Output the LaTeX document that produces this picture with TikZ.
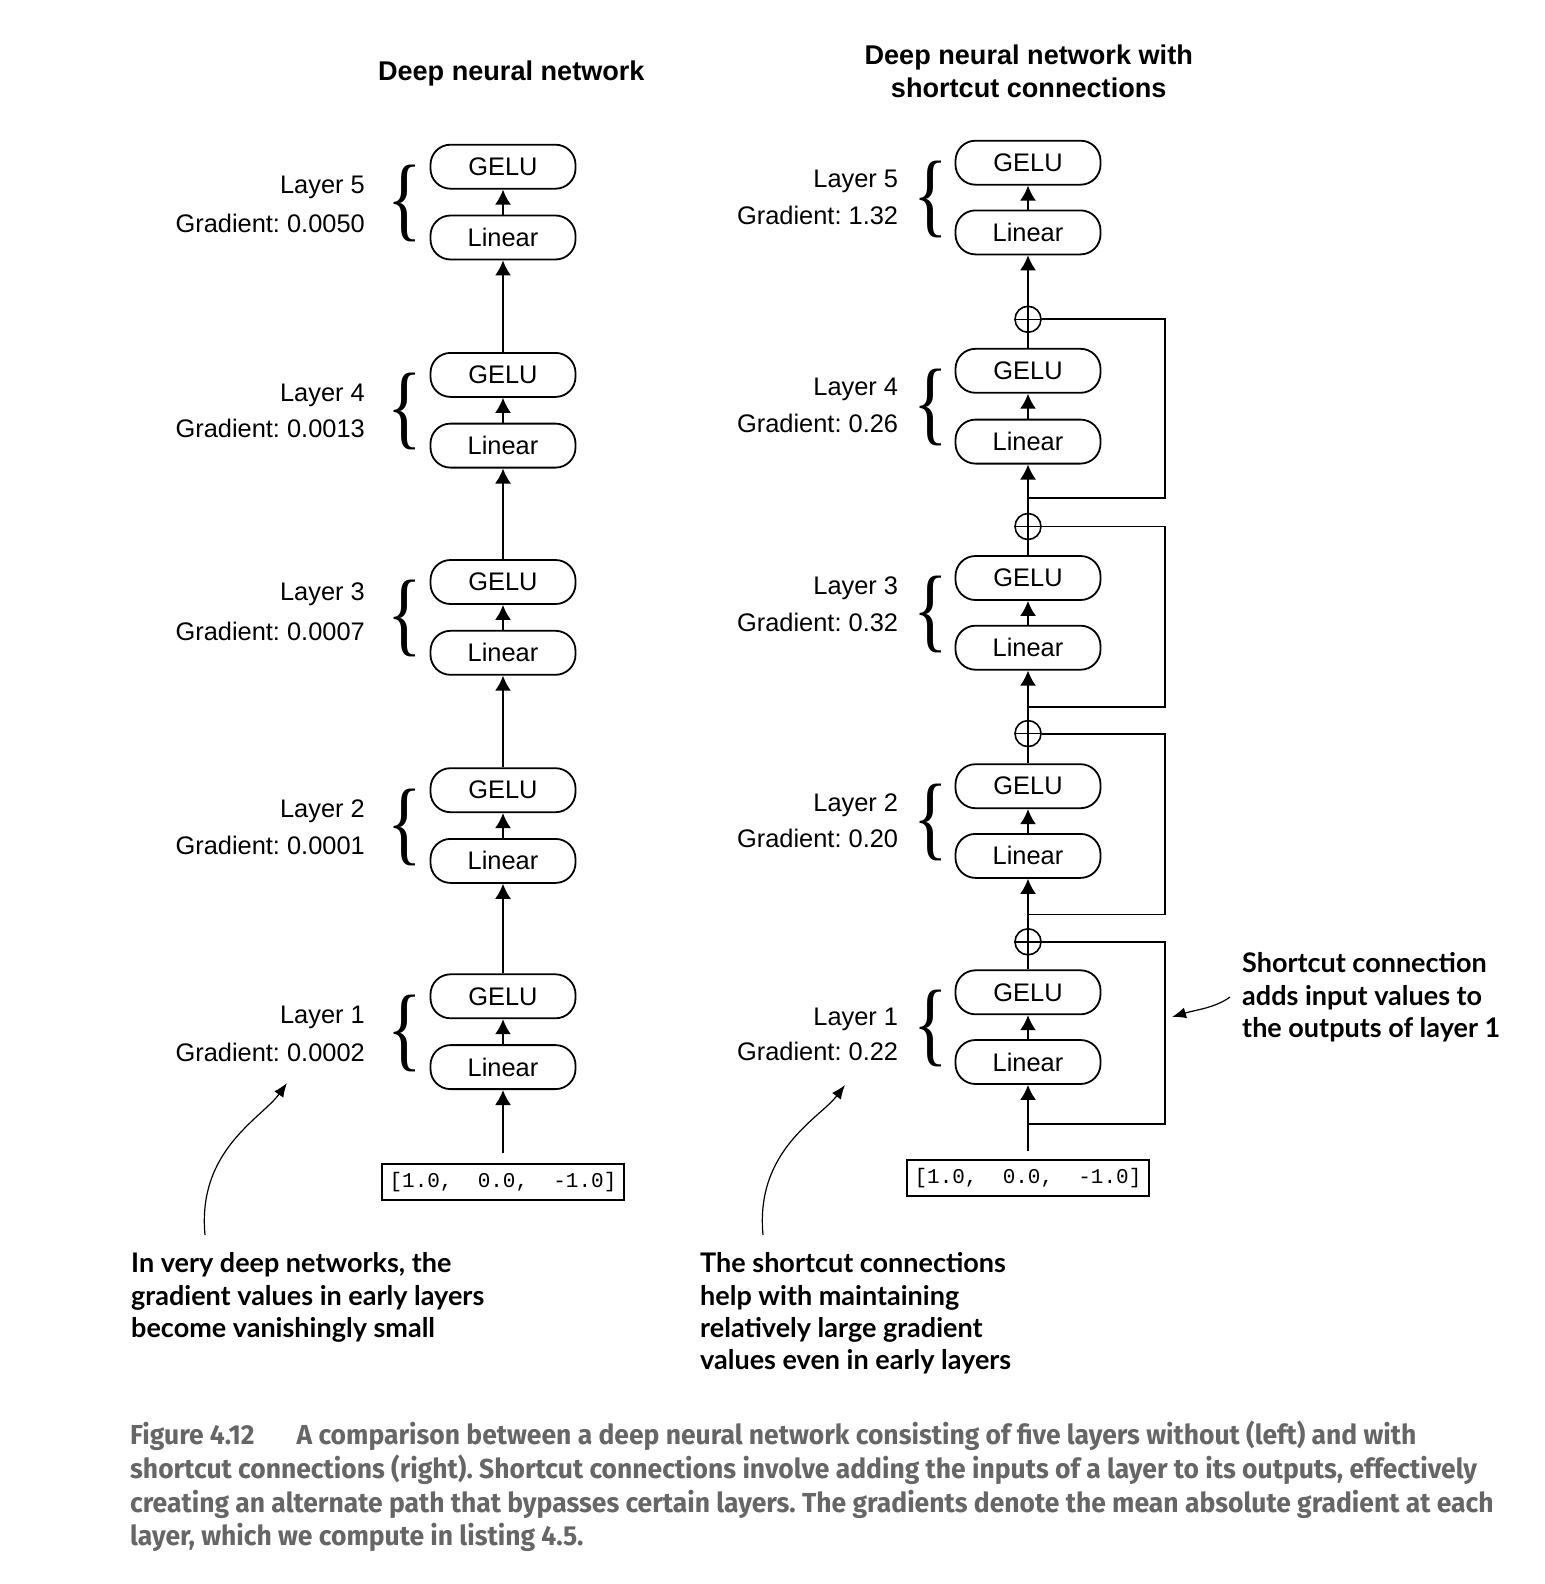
\documentclass[tikz,border=0pt]{standalone}
\usepackage{fontspec}
\usepackage{graphicx}
\setmainfont{Liberation Sans}
\newfontfamily\monofont{Liberation Mono}
\newfontfamily\annfont{Lato}
\newfontfamily\capfont[FakeStretch=0.963]{Fira Sans}
\newfontfamily\bracefont{Liberation Serif}
\usetikzlibrary{arrows.meta,calc}
\definecolor{capgray}{HTML}{666666}
\frenchspacing
\tikzset{
  layerbox/.style={draw, line width=1.8pt, rounded corners=20pt, minimum width=145pt, minimum height=44pt, inner sep=0pt, font=\fontsize{25.4}{30}\selectfont},
  lbl/.style={anchor=east, inner sep=0pt, font=\fontsize{25.4}{30}\selectfont},
  arr/.style={line width=1.8pt, -{Latex[length=15pt,width=16pt]}},
  conn/.style={line width=1.8pt},
  plusnode/.style={draw, circle, line width=1.6pt, minimum size=26pt, inner sep=0pt},
  inbox/.style={draw, line width=1.8pt, minimum width=242pt, minimum height=36pt, inner sep=0pt, font=\monofont\fontsize{21}{24}\selectfont},
  bracenode/.style={inner sep=0pt},
  annarr/.style={line width=1.2pt, -{Latex[length=14pt,width=11pt]}},
  anntext/.style={anchor=west, align=left, inner sep=0pt, font=\annfont\bfseries\fontsize{27}{32.3}\selectfont},
  headtext/.style={align=center, inner sep=0pt, font=\bfseries\fontsize{27.1}{33.3}\selectfont}
}
\newcommand{\mybrace}{\scalebox{1}[1.29]{\bracefont\fontsize{72}{72}\selectfont\{}}
\begin{document}
\begin{tikzpicture}[x=1pt,y=-1pt]
\useasboundingbox (0,0) rectangle (1544,1584);
% headings
\node[headtext] (hL) at (511.3,73.7) {Deep neural network};
\node[headtext] (hR) at (1028.7,71.3) {Deep neural network with\\shortcut connections};
% ---------- left column ----------
\foreach \k/\g/\l in {5/166.7/237.5, 4/374.9/445.6, 3/582.0/652.8, 2/790.2/860.9, 1/996.3/1067.1}{
  \node[layerbox] (gL\k) at (503,\g) {GELU};
  \node[layerbox] (lL\k) at (503,\l) {Linear};
  \draw[arr] (lL\k.north) -- (gL\k.south);
  \node[bracenode] (bL\k) at (405,{(\g+\l)/2+1.5}) {\mybrace};
}
\foreach \k/\n in {1/2,2/3,3/4,4/5}{
  \draw[arr] (gL\k.north) -- (lL\n.south);
}
\node[lbl] (tL5) at (365,187.4) {Layer 5};
\node[lbl] (dL5) at (365,223.3) {Gradient: 0.0050};
\node[lbl] (tL4) at (365,395.6) {Layer 4};
\node[lbl] (dL4) at (365,428.4) {Gradient: 0.0013};
\node[lbl] (tL3) at (365,594.6) {Layer 3};
\node[lbl] (dL3) at (365,631.5) {Gradient: 0.0007};
\node[lbl] (tL2) at (365,810.9) {Layer 2};
\node[lbl] (dL2) at (365,845.8) {Gradient: 0.0001};
\node[lbl] (tL1) at (365,1017.0) {Layer 1};
\node[lbl] (dL1) at (365,1052.9) {Gradient: 0.0002};
\node[inbox] (inL) at (503,1182) {[1.0,\ \ 0.0,\ \ -1.0]};
\draw[arr] ([yshift=10pt]inL.north) -- (lL1.south);
% ---------- right column ----------
\foreach \k/\g/\l in {5/162.7/232.4, 4/370.8/441.6, 3/578.0/647.7, 2/786.2/855.9, 1/992.3/1062.0}{
  \node[layerbox] (gR\k) at (1028,\g) {GELU};
  \node[layerbox] (lR\k) at (1028,\l) {Linear};
  \draw[arr] (lR\k.north) -- (gR\k.south);
  \node[bracenode] (bR\k) at (930.6,{(\g+\l)/2+1.5}) {\mybrace};
}
\node[lbl] (tR5) at (898.3,181.5) {Layer 5};
\node[lbl] (dR5) at (898.3,215.2) {Gradient: 1.32};
\node[lbl] (tR4) at (898.3,389.7) {Layer 4};
\node[lbl] (dR4) at (898.3,423.4) {Gradient: 0.26};
\node[lbl] (tR3) at (898.3,588.7) {Layer 3};
\node[lbl] (dR3) at (898.3,622.4) {Gradient: 0.32};
\node[lbl] (tR2) at (898.3,805.0) {Layer 2};
\node[lbl] (dR2) at (898.3,838.7) {Gradient: 0.20};
\node[lbl] (tR1) at (898.3,1019.2) {Layer 1};
\node[lbl] (dR1) at (898.3,1051.9) {Gradient: 0.22};
\node[inbox] (inR) at (1028,1178) {[1.0,\ \ 0.0,\ \ -1.0]};
% plus nodes
\node[plusnode] (p1) at (1028,941.8) {};
\node[plusnode] (p2) at (1028,733.6) {};
\node[plusnode] (p3) at (1028,526.5) {};
\node[plusnode] (p4) at (1028,319.3) {};
\foreach \p in {p1,p2,p3,p4}{
  \draw[line width=1.6pt] (\p.north) -- (\p.south);
  \draw[line width=1.6pt] (\p.west) -- (\p.east);
}
% branch points
\coordinate (b1) at (1028,1123.6);
\coordinate (b2) at (1028,914.5);
\coordinate (b3) at (1028,707.3);
\coordinate (b4) at (1028,498.2);
% main column
\draw[arr] ([yshift=8pt]inR.north) -- (lR1.south);
\draw[conn] (gR1.north) -- (p1.south);
\draw[arr] (p1.north) -- (lR2.south);
\draw[conn] (gR2.north) -- (p2.south);
\draw[arr] (p2.north) -- (lR3.south);
\draw[conn] (gR3.north) -- (p3.south);
\draw[arr] (p3.north) -- (lR4.south);
\draw[conn] (gR4.north) -- (p4.south);
\draw[arr] (p4.north) -- (lR5.south);
% shortcuts
\draw[conn] (b1) -- ++(137,0) |- (p1.east);
\draw[conn] (b2) -- ++(137,0) |- (p2.east);
\draw[conn] (b3) -- ++(137,0) |- (p3.east);
\draw[conn] (b4) -- ++(137,0) |- (p4.east);
% annotations
\node[anntext] (aL) at (131,1297.5) {In very deep networks, the\\gradient values in early layers\\become vanishingly small};
\node[anntext] (aR) at (700,1313.5) {The shortcut connections\\help with maintaining\\relatively large gradient\\values even in early layers};
\node[anntext] (aS) at (1242,997.5) {Shortcut connection\\adds input values to\\the outputs of layer 1};
\coordinate (sL) at (205,1235);
\coordinate (eL) at (287,1083);
\coordinate (sR) at (763,1235);
\coordinate (eR) at (845,1085);
\coordinate (sS) at (1230,997);
\coordinate (eS) at (1172,1017);
\draw[annarr] (sL) .. controls (197,1150) and (262,1118) .. (eL);
\draw[annarr] (sR) .. controls (755,1150) and (820,1118) .. (eR);
\draw[annarr] (sS) .. controls (1215,1008) and (1195,1010) .. (eS);
% caption
\node[anchor=west, align=left, inner sep=0pt, text=capgray, font=\capfont\bfseries\fontsize{27.5}{33.7}\selectfont] (cap) at (130,1486.5) {Figure 4.12\hspace{42pt}A comparison between a deep neural network consisting of five layers without (left) and with\\shortcut connections (right). Shortcut connections involve adding the inputs of a layer to its outputs, effectively\\creating an alternate path that bypasses certain layers. The gradients denote the mean absolute gradient at each\\layer, which we compute in listing 4.5.};
\end{tikzpicture}
\end{document}
